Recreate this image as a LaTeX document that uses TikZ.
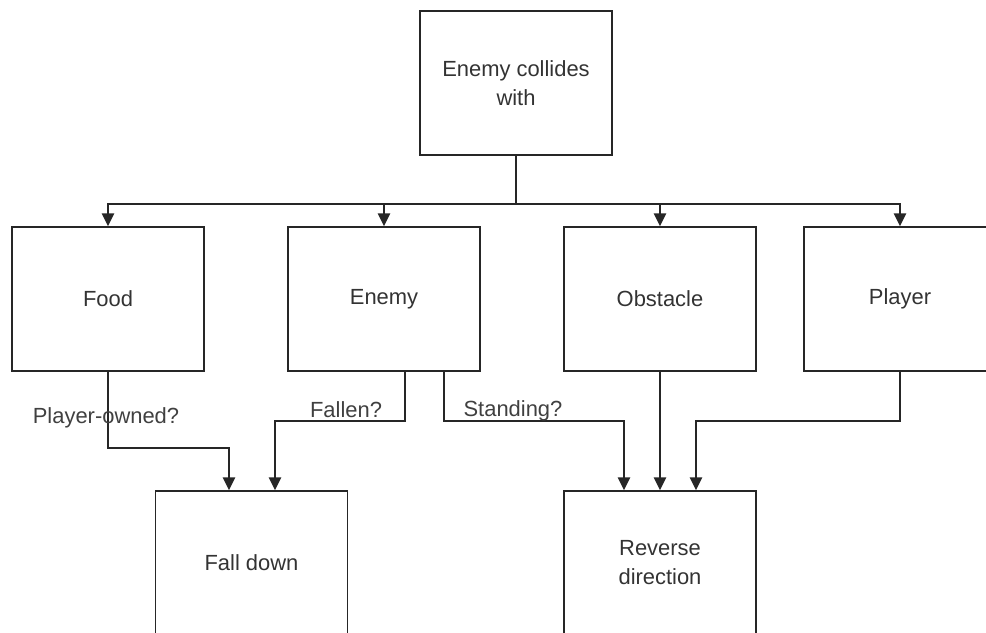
\documentclass[tikz,border=0pt]{standalone}
\usepackage{fontspec}
\setmainfont{Liberation Sans}
\usetikzlibrary{arrows.meta, calc, positioning}

\begin{document}
\begin{tikzpicture}[
    x=1cm,
    y=1cm,
    font=\fontsize{15.6}{20.6}\selectfont,
    statebox/.style={
        draw=black!85,
        line width=1.2pt,
        minimum width=4.8cm,
        minimum height=3.6cm,
        align=center,
        text=black!80,
        inner sep=2pt
    },
    link/.style={
        draw=black!85,
        line width=1.2pt
    },
    arr/.style={
        -{Triangle[length=3.2mm,width=3.1mm]},
        draw=black!85,
        line width=1.2pt
    },
    cond/.style={
        text=black!75,
        inner sep=1pt
    }
]

\clip (0,0) rectangle (24.65,-15.825);

% -----------------------------------------------------
% Nodes
% -----------------------------------------------------

\node[statebox] (collide) at (12.9,-2.075) {Enemy collides\\with};

\node[statebox] (food)     at (2.7,-7.475)  {Food};
\node[statebox] (enemy)    at (9.6,-7.475)  {Enemy};
\node[statebox] (obstacle) at (16.5,-7.475) {Obstacle};
\node[statebox] (player)   at (22.5,-7.475) {Player};

\node[statebox] (falldown) at (6.2875,-14.075) {Fall down};
\node[statebox] (reverse)  at (16.5,-14.075)   {Reverse\\direction};

% -----------------------------------------------------
% Top level fan-out
% -----------------------------------------------------

\draw[link] (collide.south) -- ++(0,-1.2) coordinate (bus);

\draw[arr] (bus) -| (food.north);
\draw[arr] (bus) -| (enemy.north);
\draw[arr] (bus) -| (obstacle.north);
\draw[arr] (bus) -| (player.north);

% -----------------------------------------------------
% Results
% -----------------------------------------------------

\draw[arr] (food.south) -- ++(0,-1.9) -| ([xshift=-0.5625cm]falldown.north);
\node[cond] (owned) at (2.65,-10.45) {Player-owned?};

\draw[arr] ([xshift=0.525cm]enemy.south) -- ++(0,-1.225)
    -| ([xshift=0.5875cm]falldown.north);
\node[cond] (fallen) at (8.65,-10.25) {Fallen?};

\draw[arr] ([xshift=1.5cm]enemy.south) -- ++(0,-1.225)
    -| ([xshift=-0.9cm]reverse.north);
\node[cond] (standing) at (12.825,-10.275) {Standing?};

\draw[arr] (obstacle.south) -- (reverse.north);

\draw[arr] (player.south) -- ++(0,-1.225)
    -| ([xshift=0.9cm]reverse.north);

\end{tikzpicture}
\end{document}
